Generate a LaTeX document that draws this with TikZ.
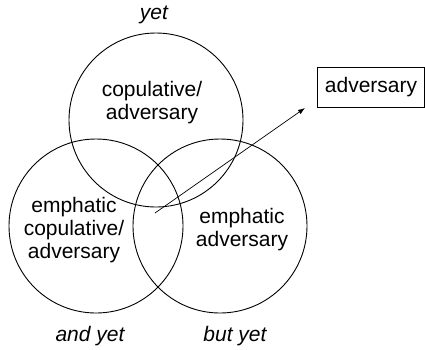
\documentclass[tikz,border=0pt]{standalone}
\usepackage{fontspec}
\setmainfont{Liberation Sans}
\usetikzlibrary{arrows.meta}
\begin{document}
\begin{tikzpicture}[x=1pt,y=-1pt,
  circ/.style={draw,line width=0.9pt,circle,minimum size=174pt,inner sep=0pt},
  lbl/.style={align=center,font=\fontsize{21}{23}\selectfont},
  ilbl/.style={font=\fontsize{21}{23}\selectfont\itshape},
  box/.style={draw,line width=0.9pt,font=\fontsize{21}{23}\selectfont,minimum width=107pt,minimum height=40pt,inner sep=2pt}]
\useasboundingbox (0,0) rectangle (425,349);
\node[circ] (top) at (156,120) {};
\node[circ] (left) at (96,226) {};
\node[circ] (right) at (220,226) {};
\node[lbl] (t1) at (152,103) {copulative/\\adversary};
\node[lbl] (l1) at (74,230) {emphatic\\copulative/\\adversary};
\node[lbl] (r1) at (242,230) {emphatic\\adversary};
\node[ilbl] (yet) at (154,15) {yet};
\node[ilbl] (andyet) at (90,336) {and yet};
\node[ilbl] (butyet) at (235,336) {but yet};
\node[box] (adv) at (371,87) {adversary};
\coordinate (s) at (155,213);
\coordinate (e) at (305,108);
\draw[line width=0.7pt,-{Latex[length=7pt,width=5pt]}] (s) -- (e);
\end{tikzpicture}
\end{document}
